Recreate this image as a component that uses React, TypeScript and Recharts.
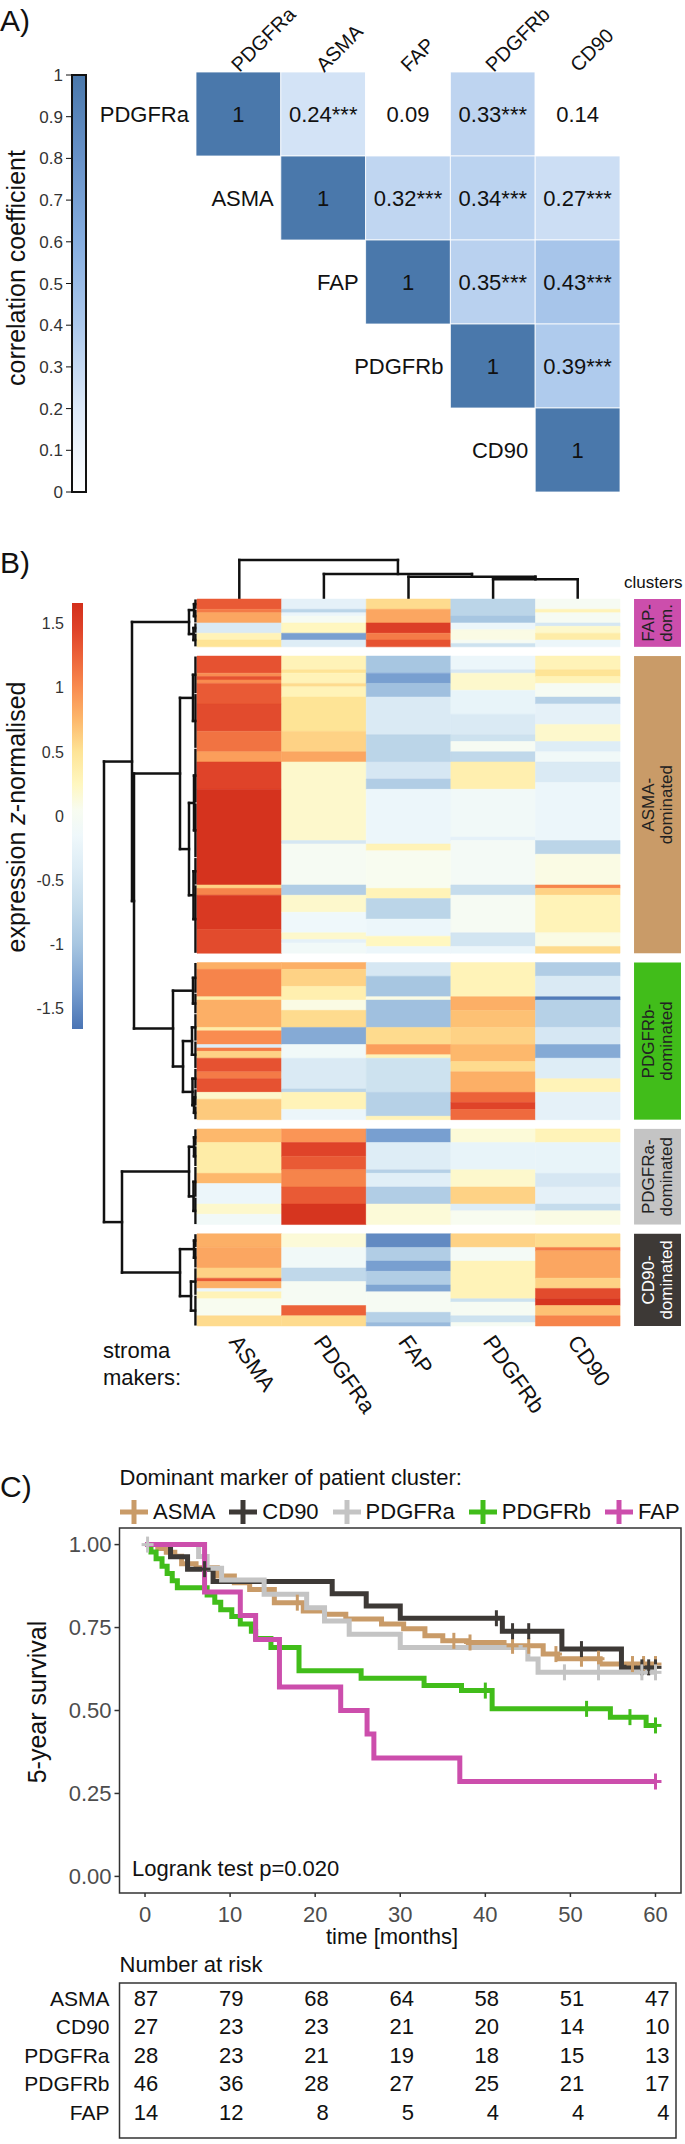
import React from "react";
import {
  ComposedChart,
  Line,
  ReferenceArea,
  ReferenceLine,
  Scatter,
  XAxis,
  YAxis
} from "recharts";

const FONT = '"Liberation Sans", Arial, Helvetica, sans-serif';

// ---------- A) correlation matrix ----------
const corrMarkers = ["PDGFRa", "ASMA", "FAP", "PDGFRb", "CD90"];
// upper triangle, row i starts at the diagonal
const corrRows = [
  [1, 0.24, 0.09, 0.33, 0.14],
  [1, 0.32, 0.34, 0.27],
  [1, 0.35, 0.43],
  [1, 0.39],
  [1]
];
const corrStars = [
  ["", "***", "", "***", ""],
  ["", "***", "***", "***"],
  ["", "***", "***"],
  ["", "***"],
  [""]
];
const corrTicks = [0, 0.1, 0.2, 0.3, 0.4, 0.5, 0.6, 0.7, 0.8, 0.9, 1];
const corrStops: [number, string][] = [
  [0, "#ffffff"],
  [0.2, "#dde9f8"],
  [0.4, "#adc9ec"],
  [0.6, "#86aee0"],
  [0.8, "#6892c8"],
  [1, "#4a78ab"]
];

// ---------- B) clustered heatmap ----------
const heatMarkers = ["ASMA", "PDGFRa", "FAP", "PDGFRb", "CD90"];
const clusterSizes = [14, 87, 46, 28, 27];
const clusterTop = ["FAP-", "ASMA-", "PDGFRb-", "PDGFRa-", "CD90-"];
const clusterBottom = ["dom.", "dominated", "dominated", "dominated", "dominated"];
const clusterColors = ["#cc4eac", "#c99b68", "#41bd1a", "#c4c4c4", "#3d3936"];
const clusterTextColors = ["#222", "#222", "#222", "#222", "#ffffff"];
const zTicks = [-1.5, -1, -0.5, 0, 0.5, 1, 1.5];
const zStops: [number, string][] = [
  [-1.66, "#4a74b4"],
  [-1.35, "#789fd0"],
  [-1.0, "#a7c6e1"],
  [-0.7, "#c5dcec"],
  [-0.4, "#deedf6"],
  [-0.15, "#eff8fb"],
  [0.05, "#f8fcf0"],
  [0.25, "#fff7c0"],
  [0.5, "#fee496"],
  [0.75, "#fdb86c"],
  [1.0, "#f98c50"],
  [1.25, "#ec6239"],
  [1.45, "#df4329"],
  [1.66, "#d32f1b"]
];

// runs of [z value, number of patients], per marker column (ASMA, PDGFRa, FAP, PDGFRb, CD90)
type Run = [number, number];
const fapDomRuns: Run[][] = [
  [[1.3, 3], [1.1, 1], [0.85, 3], [-0.45, 3], [0.3, 2], [0.5, 2]],
  [[-0.3, 3], [-0.8, 1], [-0.2, 1], [0, 2], [0.25, 3], [-1.35, 2], [-0.4, 2]],
  [[0.55, 3], [0.85, 4], [1.5, 3], [1.1, 2], [1.35, 2]],
  [[-0.8, 5], [-1.0, 2], [-0.2, 2], [0.1, 3], [0, 1], [-0.6, 1]],
  [[0, 3], [0.3, 1], [0, 3], [-0.5, 1], [0.2, 2], [0.4, 2], [-0.2, 2]]
];
const asmaDomRuns: Run[][] = [
  [[1.35, 5], [1.0, 1], [1.35, 1], [1.0, 1], [1.3, 6], [1.4, 8], [1.15, 6], [0.9, 3], [1.45, 8], [1.62, 28], [0.6, 1], [1.05, 2], [1.55, 10], [1.4, 7]],
  [[0.3, 4], [0.5, 1], [0.3, 3], [0.55, 1], [0.3, 3], [0.5, 10], [0.6, 6], [0.85, 3], [0.2, 23], [-0.5, 1], [0, 12], [-0.9, 3], [0.2, 5], [-0.15, 6], [0.2, 2], [-0.3, 1], [-0.1, 3]],
  [[-1.0, 5], [-1.35, 3], [-1.05, 4], [-0.45, 11], [-0.8, 8], [-0.5, 5], [-0.9, 3], [-0.2, 16], [0.3, 2], [0.05, 11], [0.3, 3], [-0.8, 6], [-0.2, 5], [0.25, 3], [-0.2, 2]],
  [[-0.2, 4], [-0.5, 1], [0.2, 5], [-0.25, 7], [-0.45, 6], [-0.6, 2], [0, 3], [-0.75, 3], [0.35, 8], [-0.1, 14], [-0.3, 1], [-0.05, 13], [-0.7, 3], [0, 11], [-0.55, 4], [-0.2, 2]],
  [[0.3, 4], [0.5, 2], [0.3, 2], [0, 4], [-0.85, 2], [-0.3, 6], [0.2, 5], [-0.4, 3], [-0.1, 3], [-0.45, 6], [-0.2, 17], [-0.8, 4], [0.1, 9], [1.05, 1], [0.6, 2], [0.3, 11], [0.1, 4], [0.55, 2]]
];
const pdgfrbDomRuns: Run[][] = [
  [[0.8, 2], [1.05, 8], [0.4, 1], [0.8, 8], [0.4, 1], [1.0, 4], [-0.4, 1], [1.1, 1], [0.6, 2], [1.35, 4], [1.1, 2], [1.35, 4], [0.2, 2], [0.65, 6]],
  [[0.8, 2], [0.6, 5], [0.35, 4], [0.1, 3], [0.55, 5], [-1.25, 5], [-0.1, 4], [-0.45, 9], [-0.8, 1], [0.3, 5], [-0.2, 3]],
  [[-0.5, 4], [-1.0, 6], [0.1, 1], [-1.05, 8], [0.55, 5], [0.9, 3], [0.3, 1], [-0.6, 10], [-0.85, 7], [0.3, 1]],
  [[0.3, 10], [0.8, 4], [0.7, 5], [0.6, 5], [0.75, 5], [0.55, 3], [0.8, 6], [1.25, 3], [1.45, 2], [1.2, 3]],
  [[-0.9, 4], [-0.45, 6], [-1.6, 1], [-0.85, 8], [-0.5, 5], [-1.25, 4], [-0.4, 6], [0.3, 4], [-0.3, 8]]
];
const pdgfraDomRuns: Run[][] = [
  [[0.75, 4], [0.4, 9], [0.75, 3], [-0.2, 6], [0.2, 3], [-0.1, 3]],
  [[0.95, 4], [1.45, 4], [1.3, 4], [1.05, 5], [1.3, 5], [1.6, 6]],
  [[-1.35, 4], [-0.4, 8], [-0.85, 1], [-0.35, 4], [-0.9, 5], [0.15, 6]],
  [[0.15, 4], [-0.25, 8], [0.2, 5], [0.6, 5], [-0.4, 2], [0.05, 4]],
  [[0.3, 4], [-0.25, 9], [-0.5, 4], [-0.3, 5], [-0.7, 2], [0.1, 4]]
];
const cd90DomRuns: Run[][] = [
  [[0.8, 4], [0.85, 6], [0.6, 3], [1.3, 1], [0.8, 2], [-0.2, 1], [0.3, 2], [0.05, 5], [0.55, 3]],
  [[0.15, 4], [-0.1, 6], [-0.75, 4], [0, 7], [1.25, 3], [0.55, 3]],
  [[-1.5, 4], [-0.9, 4], [-1.35, 3], [-0.9, 4], [-1.3, 2], [0, 6], [-0.85, 3], [-1.1, 1]],
  [[0.6, 4], [-0.05, 4], [0.3, 11], [-0.6, 1], [0, 4], [-0.6, 2], [0, 1]],
  [[0.55, 4], [1.1, 1], [0.85, 8], [0.6, 3], [1.4, 3], [1.6, 2], [0.7, 3], [1.05, 3]]
];
const heatRuns = [fapDomRuns, asmaDomRuns, pdgfrbDomRuns, pdgfraDomRuns, cd90DomRuns];

// dendrograms: a number is a group of leaves (rows / column index), h = merge height
type Tree = number | { h: number; kids: Tree[] };
const rowTree: Tree = {
  h: 9.3,
  kids: [
    {
      h: 6.5,
      kids: [
        { h: 0.8, kids: [{ h: 0.3, kids: [3, 4] }, { h: 0.35, kids: [3, 4] }] },
        {
          h: 6.3,
          kids: [
            { h: 1.7, kids: [{ h: 0.4, kids: [11, 16] }, { h: 0.8, kids: [{ h: 0.3, kids: [16, 16] }, { h: 0.35, kids: [8, 20] }] }] },
            { h: 2.4, kids: [{ h: 0.4, kids: [9, 6] }, { h: 1.4, kids: [{ h: 0.5, kids: [8, 8] }, { h: 0.45, kids: [6, { h: 0.3, kids: [5, 4] }] }] }] }
          ]
        }
      ]
    },
    {
      h: 7.5,
      kids: [
        { h: 0.8, kids: [{ h: 0.3, kids: [5, 6] }, { h: 0.35, kids: [9, 8] }] },
        { h: 1.7, kids: [{ h: 0.3, kids: [4, 6] }, { h: 0.6, kids: [8, 9] }] }
      ]
    }
  ]
};
const colTree: Tree = { h: 3.9, kids: [0, { h: 2.5, kids: [1, { h: 2.23, kids: [2, { h: 1.97, kids: [3, 4] }] }] }] };

// ---------- C) Kaplan-Meier ----------
const survGroups = ["ASMA", "CD90", "PDGFRa", "PDGFRb", "FAP"];
const survColors = ["#c99b68", "#3d3936", "#c4c4c4", "#41bd1a", "#cc4eac"];
const asmaTimes = [0, 1.5, 2.5, 3.5, 4.3, 6, 8.5, 10.5, 12.3, 15.2, 18.6, 21.1, 23.6, 27.8, 30.4, 32.9, 35, 38, 42.2, 46.8, 48.5, 53.5, 60];
const asmaSurv = [1, 0.988, 0.977, 0.965, 0.942, 0.93, 0.905, 0.885, 0.865, 0.825, 0.8, 0.79, 0.776, 0.761, 0.746, 0.725, 0.71, 0.705, 0.695, 0.67, 0.656, 0.64, 0.64];
const asmaCensor = [17.9, 36.3, 38.2, 43.2, 45.1, 48.3, 51.3, 53.3, 57.3, 58.6, 60];
const cd90Times = [0, 3, 5, 8, 22, 26, 30, 42, 49, 56, 60];
const cd90Surv = [1, 0.963, 0.926, 0.889, 0.852, 0.815, 0.778, 0.739, 0.685, 0.63, 0.63];
const cd90Censor = [7, 41.3, 43.2, 45.1, 51.3, 58.4, 59.2, 60];
const pdgfraTimes = [0, 6.3, 7.3, 9, 14, 19, 21.1, 24, 30, 45, 46.2, 60];
const pdgfraSurv = [1, 0.964, 0.929, 0.893, 0.85, 0.81, 0.77, 0.73, 0.69, 0.655, 0.615, 0.615];
const pdgfraCensor = [0.3, 49.3, 53.3, 58.4, 60];
const pdgfrbTimes = [0, 0.7, 1.3, 2, 2.6, 3.2, 3.8, 7.3, 8.2, 8.9, 10.2, 11.2, 12.5, 13, 14.8, 18.1, 25.4, 32.8, 37.2, 40.8, 54.7, 58.9, 60];
const pdgfrbSurv = [1, 0.978, 0.957, 0.935, 0.913, 0.891, 0.87, 0.848, 0.826, 0.804, 0.783, 0.761, 0.739, 0.717, 0.69, 0.62, 0.597, 0.575, 0.56, 0.505, 0.48, 0.455, 0.455];
const pdgfrbCensor = [40, 51.9, 57, 60];
const fapTimes = [0, 7, 11.2, 13, 15.8, 23, 26.1, 26.9, 37, 60];
const fapSurv = [1, 0.857, 0.786, 0.714, 0.571, 0.5, 0.429, 0.357, 0.286, 0.286];
const fapCensor = [60];
const survTicks = [0, 0.25, 0.5, 0.75, 1];
const timeTicks = [0, 10, 20, 30, 40, 50, 60];

const riskTimes = [0, 10, 20, 30, 40, 50, 60];
const riskAsma = [87, 79, 68, 64, 58, 51, 47];
const riskCd90 = [27, 23, 23, 21, 20, 14, 10];
const riskPdgfra = [28, 23, 21, 19, 18, 15, 13];
const riskPdgfrb = [46, 36, 28, 27, 25, 21, 17];
const riskFap = [14, 12, 8, 5, 4, 4, 4];

// ---------- helpers ----------
function hexRgb(h: string) {
  const n = parseInt(h.slice(1), 16);
  return [(n >> 16) & 255, (n >> 8) & 255, n & 255];
}
function colorAt(stops: [number, string][], v: number) {
  if (v <= stops[0][0]) return stops[0][1];
  for (let i = 1; i < stops.length; i++) {
    if (v <= stops[i][0]) {
      const f = (v - stops[i - 1][0]) / (stops[i][0] - stops[i - 1][0]);
      const a = hexRgb(stops[i - 1][1]);
      const b = hexRgb(stops[i][1]);
      const c = a.map((x, k) => Math.round(x + (b[k] - x) * f));
      return `rgb(${c[0]},${c[1]},${c[2]})`;
    }
  }
  return stops[stops.length - 1][1];
}

const GAP = 2.7;
const clusterStarts = clusterSizes.map(
  (_, c) => clusterSizes.slice(0, c).reduce((a, b) => a + b, 0) + GAP * c
);
const totalRows = clusterStarts[4] + clusterSizes[4];
function rowCenter(i: number) {
  let c = 0;
  let acc = 0;
  while (i >= acc + clusterSizes[c]) {
    acc += clusterSizes[c];
    c++;
  }
  return clusterStarts[c] + (i - acc) + 0.5;
}

type Seg = [number, number, number, number]; // h0, p0, h1, p1
function walk(t: Tree, leaf: (n: number) => { pos: number; h: number }, segs: Seg[]): { pos: number; h: number } {
  if (typeof t === "number") return leaf(t);
  const kids = t.kids.map((k) => walk(k, leaf, segs));
  const p0 = kids[0].pos;
  const p1 = kids[kids.length - 1].pos;
  segs.push([t.h, p0, t.h, p1]);
  kids.forEach((k) => segs.push([k.h, k.pos, t.h, k.pos]));
  return { pos: (p0 + p1) / 2, h: t.h };
}

const LEAF_H = 0.15;
const rowSegs: Seg[] = [];
{
  let next = 0;
  walk(
    rowTree,
    (n) => {
      const a = rowCenter(next);
      const b = rowCenter(next + n - 1);
      next += n;
      if (n > 1) {
        rowSegs.push([LEAF_H, a, LEAF_H, b]);
        return { pos: (a + b) / 2, h: LEAF_H };
      }
      return { pos: a, h: 0 };
    },
    rowSegs
  );
}
const colSegs: Seg[] = [];
walk(colTree, (c) => ({ pos: c + 0.5, h: 0 }), colSegs);

const heatCells: { x1: number; x2: number; y1: number; y2: number; fill: string }[] = [];
heatRuns.forEach((cluster, c) =>
  cluster.forEach((runs, m) => {
    let y = clusterStarts[c];
    runs.forEach(([z, n]) => {
      heatCells.push({ x1: m, x2: m + 1, y1: y, y2: y + n, fill: colorAt(zStops, z) });
      y += n;
    });
  })
);

const corrCells: { x: number; y: number; fill: string }[] = [];
const corrText: { x: number; y: number; text: string; anchor: string }[] = [];
corrRows.forEach((row, i) =>
  row.forEach((v, k) => {
    const j = i + k;
    const sig = v === 1 || corrStars[i][k] !== "";
    corrCells.push({ x: j, y: i, fill: sig ? colorAt(corrStops, v) : "#ffffff" });
    corrText.push({ x: j + 0.5, y: i + 0.5, text: v === 1 ? "1" : v.toFixed(2) + corrStars[i][k], anchor: "middle" });
  })
);
corrMarkers.forEach((m, i) => corrText.push({ x: i, y: i + 0.5, text: m, anchor: "end" }));

function survAt(times: number[], surv: number[], t: number) {
  let s = surv[0];
  times.forEach((x, i) => {
    if (x <= t) s = surv[i];
  });
  return s;
}
const survSeries = [
  [asmaTimes, asmaSurv, asmaCensor],
  [cd90Times, cd90Surv, cd90Censor],
  [pdgfraTimes, pdgfraSurv, pdgfraCensor],
  [pdgfrbTimes, pdgfrbSurv, pdgfrbCensor],
  [fapTimes, fapSurv, fapCensor]
].map(([times, surv, censor], g) => ({
  name: survGroups[g],
  color: survColors[g],
  line: times.map((t, i) => ({ x: t, y: surv[i] })),
  marks: censor.map((t) => ({ x: t, y: survAt(times, surv, t) }))
}));

const riskRows = [riskAsma, riskCd90, riskPdgfra, riskPdgfrb, riskFap];
const riskCells = riskRows.flatMap((row, g) => row.map((n, k) => ({ x: riskTimes[k], y: g, n })));

// ---------- components ----------
function Abs({ left = 0, top, children }: { left?: number; top: number; children: React.ReactNode }) {
  return <div style={{ position: "absolute", left, top }}>{children}</div>;
}

function CorrHeaderTick(props: any) {
  const { x, y, payload } = props;
  const x0 = x + 1;
  const y0 = y + 1;
  return (
    <text x={x0} y={y0} fontSize={20} fill="#111" transform={`rotate(-45 ${x0} ${y0})`}>
      {corrMarkers[Math.floor(payload.value)]}
    </text>
  );
}

function MarkerTick(props: any) {
  const { x, y, payload } = props;
  const x0 = x - 11;
  const y0 = y + 16;
  return (
    <text x={x0} y={y0} fontSize={22} fill="#111" transform={`rotate(55 ${x0} ${y0})`}>
      {heatMarkers[Math.floor(payload.value)]}
    </text>
  );
}

function ClusterBox(c: number) {
  return (props: any) => {
    const { x, y, width, height } = props;
    const cx = x + width / 2;
    const cy = y + height / 2;
    return (
      <g>
        <rect x={x} y={y} width={width} height={height} fill={clusterColors[c]} />
        <text x={cx} y={cy} fontSize={17} fill={clusterTextColors[c]} textAnchor="middle" transform={`rotate(-90 ${cx} ${cy})`}>
          <tspan x={cx} dy="-0.2em">{clusterTop[c]}</tspan>
          <tspan x={cx} dy="1.05em">{clusterBottom[c]}</tspan>
        </text>
      </g>
    );
  };
}

function censorShape(color: string) {
  return (props: any) => {
    const { cx, cy } = props;
    return (
      <g>
        <line x1={cx} y1={cy - 8} x2={cx} y2={cy + 8} stroke={color} strokeWidth={3} />
        <line x1={cx - 6} y1={cy} x2={cx + 6} y2={cy} stroke={color} strokeWidth={3} />
      </g>
    );
  };
}

export default function App() {
  return (
    <div style={{ position: "absolute", left: 0, top: 0, width: 685, height: 2144, background: "#fff", fontFamily: FONT, color: "#111" }}>
      <svg width={685} height={2144} style={{ position: "absolute", left: 0, top: 0 }} fontFamily={FONT} fill="#111">
        <text x={0} y={31} fontSize={30}>A)</text>
        <text x={0} y={573} fontSize={30}>B)</text>
        <text x={0} y={1497} fontSize={30}>C)</text>
        <text x={25} y={268} fontSize={25} textAnchor="middle" transform="rotate(-90 25 268)">correlation coefficient</text>
        <text x={25} y={817} fontSize={25} textAnchor="middle" transform="rotate(-90 25 817)">
          expression <tspan fontStyle="italic">z</tspan>-normalised
        </text>
        <text x={624} y={588} fontSize={17}>clusters</text>
        <text x={103} y={1358} fontSize={22}>stroma</text>
        <text x={103} y={1385} fontSize={22}>makers:</text>
        <text x={119.5} y={1485} fontSize={22}>Dominant marker of patient cluster:</text>
        <text x={46} y={1702} fontSize={25} textAnchor="middle" transform="rotate(-90 46 1702)">5-year survival</text>
        <text x={392} y={1944} fontSize={22} textAnchor="middle">time [months]</text>
        <text x={132} y={1876} fontSize={22}>Logrank test p=0.020</text>
        <text x={119.5} y={1972} fontSize={22}>Number at risk</text>
      </svg>

      {/* A) colour bar */}
      <Abs top={0}>
        <ComposedChart width={100} height={510} margin={{ top: 75, right: 14, bottom: 18, left: 0 }}>
          <defs>
            <linearGradient id="corrGrad" x1="0" y1="1" x2="0" y2="0">
              {corrStops.map(([v, c]) => (
                <stop key={v} offset={v} stopColor={c} />
              ))}
            </linearGradient>
          </defs>
          <XAxis type="number" dataKey="x" domain={[0, 1]} allowDataOverflow hide />
          <YAxis
            type="number"
            dataKey="y"
            domain={[0, 1]}
            allowDataOverflow
            ticks={corrTicks}
            width={72}
            axisLine={false}
            tickSize={6}
            tickMargin={3}
            tickLine={{ stroke: "#111" }}
            tickFormatter={(v: number) => (v === 0 || v === 1 ? String(v) : v.toFixed(1))}
            tick={{ fontSize: 17, fill: "#333" }}
            interval={0}
          />
          <ReferenceArea x1={0} x2={1} y1={0} y2={1} fill="url(#corrGrad)" fillOpacity={1} stroke="#111" strokeWidth={2} />
        </ComposedChart>
      </Abs>

      {/* A) correlation matrix */}
      <Abs top={0}>
        <ComposedChart width={685} height={500} margin={{ top: 71, right: 65, bottom: 8, left: 196 }}>
          <XAxis
            type="number"
            dataKey="x"
            orientation="top"
            domain={[0, 5]}
            ticks={[0.5, 1.5, 2.5, 3.5, 4.5]}
            height={1}
            axisLine={false}
            tickLine={false}
            tickSize={0}
            tickMargin={0}
            interval={0}
            tick={(p: any) => <CorrHeaderTick {...p} />}
          />
          <YAxis type="number" dataKey="y" domain={[0, 5]} reversed hide />
          {corrCells.map((c, i) => (
            <ReferenceArea key={i} x1={c.x} x2={c.x + 1} y1={c.y} y2={c.y + 1} fill={c.fill} fillOpacity={1} stroke="#ffffff" strokeWidth={0.8} />
          ))}
          <Scatter
            data={corrText}
            isAnimationActive={false}
            shape={(p: any) => (
              <text
                x={p.payload.anchor === "end" ? p.cx - 7 : p.cx}
                y={p.cy}
                textAnchor={p.payload.anchor}
                dominantBaseline="central"
                fontSize={22}
                fill="#111"
              >
                {p.payload.text}
              </text>
            )}
          />
        </ComposedChart>
      </Abs>

      {/* B) colour bar */}
      <Abs top={590}>
        <ComposedChart width={100} height={450} margin={{ top: 13, right: 17, bottom: 11, left: 0 }}>
          <defs>
            <linearGradient id="zGrad" x1="0" y1="1" x2="0" y2="0">
              {zStops.map(([v, c]) => (
                <stop key={v} offset={(v - zStops[0][0]) / (zStops[zStops.length - 1][0] - zStops[0][0])} stopColor={c} />
              ))}
            </linearGradient>
          </defs>
          <XAxis type="number" dataKey="x" domain={[0, 1]} allowDataOverflow hide />
          <YAxis
            type="number"
            dataKey="y"
            domain={[zStops[0][0], zStops[zStops.length - 1][0]]}
            allowDataOverflow
            ticks={zTicks}
            width={72}
            axisLine={false}
            tickLine={false}
            tickSize={0}
            tickMargin={8}
            interval={0}
            tick={{ fontSize: 16, fill: "#333" }}
          />
          <ReferenceArea x1={0} x2={1} y1={zStops[0][0]} y2={zStops[zStops.length - 1][0]} fill="url(#zGrad)" fillOpacity={1} />
        </ComposedChart>
      </Abs>

      {/* B) column dendrogram */}
      <Abs top={550}>
        <ComposedChart width={685} height={60} margin={{ top: 10, right: 65, bottom: 11, left: 197 }}>
          <XAxis type="number" dataKey="x" domain={[0, 5]} allowDataOverflow hide />
          <YAxis type="number" dataKey="y" domain={[0, 3.9]} allowDataOverflow hide />
          {colSegs.map((s, i) => (
            <ReferenceLine
              key={i}
              segment={[{ x: s[1], y: s[0] }, { x: s[3], y: s[2] }]}
              stroke="#111"
              strokeWidth={2.5}
              strokeLinecap="square"
              ifOverflow="visible"
            />
          ))}
        </ComposedChart>
      </Abs>

      {/* B) row dendrogram */}
      <Abs top={580}>
        <ComposedChart width={200} height={760} margin={{ top: 19, right: 3, bottom: 14, left: 104 }}>
          <XAxis type="number" dataKey="x" domain={[0, 9.3]} allowDataOverflow reversed hide />
          <YAxis type="number" dataKey="y" domain={[0, totalRows]} allowDataOverflow reversed hide />
          {rowSegs.map((s, i) => (
            <ReferenceLine
              key={i}
              segment={[{ x: s[0], y: s[1] }, { x: s[2], y: s[3] }]}
              stroke="#111"
              strokeWidth={2.5}
              strokeLinecap="square"
              ifOverflow="visible"
            />
          ))}
        </ComposedChart>
      </Abs>

      {/* B) heatmap */}
      <Abs top={580}>
        <ComposedChart width={685} height={846} margin={{ top: 19, right: 4, bottom: 0, left: 197 }}>
          <XAxis
            type="number"
            dataKey="x"
            domain={[0, 5.72]}
            allowDataOverflow
            ticks={[0.5, 1.5, 2.5, 3.5, 4.5]}
            height={100}
            axisLine={false}
            tickLine={false}
            tickSize={0}
            tickMargin={0}
            interval={0}
            tick={(p: any) => <MarkerTick {...p} />}
          />
          <YAxis type="number" dataKey="y" domain={[0, totalRows]} allowDataOverflow reversed hide />
          {heatCells.map((c, i) => (
            <ReferenceArea key={i} x1={c.x1} x2={c.x2} y1={c.y1} y2={c.y2} fill={c.fill} fillOpacity={1} stroke={c.fill} strokeWidth={0.5} />
          ))}
          {clusterSizes.map((n, c) => (
            <ReferenceArea
              key={"cl" + c}
              x1={5.165}
              x2={5.72}
              y1={clusterStarts[c]}
              y2={clusterStarts[c] + n}
              fillOpacity={1}
              shape={ClusterBox(c)}
            />
          ))}
        </ComposedChart>
      </Abs>

      {/* C) legend */}
      <div style={{ position: "absolute", left: 120, top: 1499, display: "flex", alignItems: "center", fontSize: 22, lineHeight: "26px" }}>
        {survSeries.map((s) => (
          <div key={s.name} style={{ display: "flex", alignItems: "center", marginRight: 14 }}>
            <svg width={28} height={24}>
              <line x1={14} y1={0} x2={14} y2={24} stroke={s.color} strokeWidth={5} />
              <line x1={0} y1={12} x2={28} y2={12} stroke={s.color} strokeWidth={5} />
            </svg>
            <span style={{ marginLeft: 5 }}>{s.name}</span>
          </div>
        ))}
      </div>

      {/* C) survival curves */}
      <Abs top={1500}>
        <ComposedChart width={685} height={433} margin={{ top: 28, right: 4, bottom: 0, left: 59.5 }}>
          <XAxis
            type="number"
            dataKey="x"
            domain={[-3, 63]}
            ticks={timeTicks}
            height={40}
            axisLine={false}
            tickSize={4}
            tickMargin={9}
            tickLine={{ stroke: "#333", strokeWidth: 1.5 }}
            interval={0}
            tick={{ fontSize: 22, fill: "#4d4d4d" }}
          />
          <YAxis
            type="number"
            dataKey="y"
            domain={[-0.05, 1.05]}
            ticks={survTicks}
            width={60}
            axisLine={false}
            tickSize={5}
            tickMargin={3}
            tickLine={{ stroke: "#333", strokeWidth: 1.5 }}
            interval={0}
            tickFormatter={(v: number) => v.toFixed(2)}
            tick={{ fontSize: 22, fill: "#4d4d4d" }}
          />
          <ReferenceArea x1={-3} x2={63} y1={-0.05} y2={1.05} fill="none" stroke="#333" strokeWidth={1.5} />
          {survSeries.map((s) => (
            <Line
              key={s.name}
              data={s.line}
              dataKey="y"
              type="stepAfter"
              stroke={s.color}
              strokeWidth={5}
              dot={false}
              activeDot={false}
              isAnimationActive={false}
            />
          ))}
          {survSeries.map((s) => (
            <Scatter key={"c" + s.name} data={s.marks} isAnimationActive={false} shape={censorShape(s.color)} />
          ))}
        </ComposedChart>
      </Abs>

      {/* C) risk table */}
      <Abs top={1975}>
        <ComposedChart width={685} height={175} margin={{ top: 8, right: 9, bottom: 12, left: 0 }}>
          <XAxis type="number" dataKey="x" domain={[-2.9, 62.4]} hide />
          <YAxis
            type="number"
            dataKey="y"
            domain={[-0.53, 4.91]}
            reversed
            ticks={[0, 1, 2, 3, 4]}
            width={119.5}
            axisLine={false}
            tickLine={false}
            tickSize={0}
            tickMargin={10}
            interval={0}
            tickFormatter={(v: number) => survGroups[v]}
            tick={{ fontSize: 21, fill: "#111" }}
          />
          <ReferenceArea x1={-2.9} x2={62.4} y1={-0.53} y2={4.91} fill="none" stroke="#333" strokeWidth={1.5} />
          <Scatter
            data={riskCells}
            isAnimationActive={false}
            shape={(p: any) => (
              <text x={p.cx + 14} y={p.cy} textAnchor="end" dominantBaseline="central" fontSize={22} fill="#111">
                {p.payload.n}
              </text>
            )}
          />
        </ComposedChart>
      </Abs>
    </div>
  );
}
